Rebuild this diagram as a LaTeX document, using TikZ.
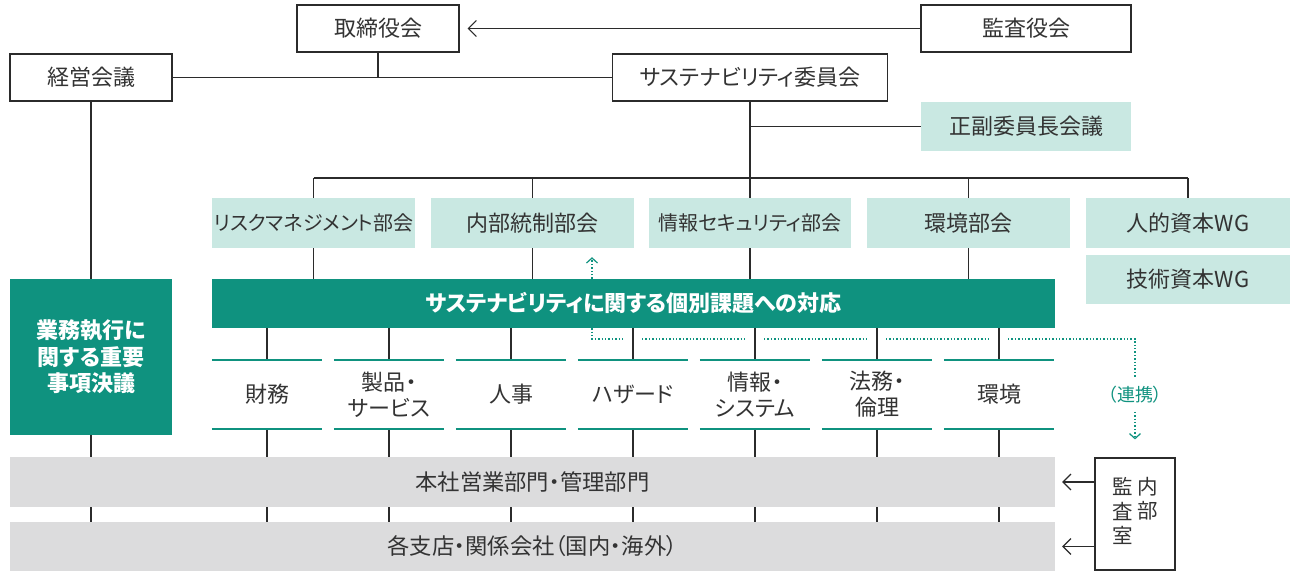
\documentclass[tikz,border=0pt]{standalone}
\usepackage{fontspec}
\setmainfont{Noto Sans CJK JP}[RawFeature=+palt]
\usetikzlibrary{arrows.meta,calc}
\definecolor{teal1}{HTML}{0F927F}
\definecolor{lteal}{HTML}{C9E8E2}
\definecolor{gbar}{HTML}{DCDCDD}
\definecolor{txt}{HTML}{333333}
\definecolor{ln}{HTML}{2B2B2B}
\begin{document}
\begin{tikzpicture}[x=1pt,y=-1pt,
  every node/.style={font=\fontsize{22}{26}\selectfont, text=txt, inner sep=0pt},
  box/.style={draw=ln, line width=1.2pt, fill=white, minimum height=47pt},
  sub/.style={fill=lteal, minimum width=203pt, minimum height=50pt},
  topic/.style={minimum width=110pt, minimum height=69pt, align=center},
  graybar/.style={fill=gbar, minimum width=1045pt, font=\fontsize{22.3}{26}\selectfont},
  greenbox/.style={fill=teal1, text=white, align=center},
  conn/.style={draw=ln, line width=1.1pt},
  dots/.style={draw=teal1, line width=1.4pt, dash pattern=on 1.4pt off 2pt},
  barb/.style={-{Straight Barb[length=8pt,width=16pt,line width=1.1pt]}},
  tbarb/.style={-{Straight Barb[length=5pt,width=11pt,line width=1.2pt]}},
  tline/.style={draw=teal1, line width=2.5pt}
]
\useasboundingbox (0,0) rectangle (1294,578);
\fill[white] (0,0) rectangle (1294,578);

% top boxes
\node[box, minimum width=162pt] (tori) at (378,28.5) {取締役会};
\node[box, minimum width=210pt] (kansa) at (1026,28.5) {監査役会};
\node[box, minimum width=162pt] (keiei) at (91,77.5) {経営会議};
\node[box, minimum width=275pt] (sust) at (750,77.5) {サステナビリティ委員会};
\node[sub, minimum width=210pt, minimum height=49pt] (seifuku) at (1026,126.5) {正副委員長会議};

% committees
\node[sub, font=\fontsize{20}{26}\selectfont] (risk) at (313.5,223) {リスクマネジメント部会};
\node[sub] (naibu) at (532.5,223) {内部統制部会};
\node[sub, minimum width=202pt, font=\fontsize{20}{26}\selectfont] (joho) at (750,223) {情報セキュリティ部会};
\node[sub] (kankyo) at (968.5,223) {環境部会};
\node[sub, minimum width=204pt] (jinteki) at (1188,223) {人的資本WG};
\node[sub, minimum width=204pt, minimum height=49pt] (gijutsu) at (1188,279.5) {技術資本WG};

% green boxes
\node[greenbox, minimum width=843pt, minimum height=49pt, font=\bfseries\fontsize{22}{26}\selectfont] (kadai) at (633.5,303.5) {サステナビリティに関する個別課題への対応};
\node[greenbox, minimum width=162pt, minimum height=156pt, font=\bfseries\fontsize{22}{26.5}\selectfont] (gyomu) at (91,357) {業務執行に\\関する重要\\事項決議};

% topics
\node[topic] (t1) at (267,394.5) {財務};
\node[topic] (t2) at (389,394.5) {製品・\\サービス};
\node[topic] (t3) at (511,394.5) {人事};
\node[topic] (t4) at (633,394.5) {ハザード};
\node[topic] (t5) at (755,394.5) {情報・\\システム};
\node[topic] (t6) at (877,394.5) {法務・\\倫理};
\node[topic] (t7) at (999,394.5) {環境};

% gray bars
\node[graybar, minimum height=50pt] (g1) at (532.5,482) {本社営業部門・管理部門};
\node[graybar, minimum height=49pt] (g2) at (532.5,546.5) {各支店・関係会社（国内・海外）};

% internal audit
\node[draw=ln, line width=1.2pt, minimum width=80pt, minimum height=112pt, font=\fontsize{20.5}{24}\selectfont] (naikan) at (1135,514)
  {\begin{tabular}[t]{@{}c@{}}監\\査\\室\end{tabular}\hspace{4pt}\begin{tabular}[t]{@{}c@{}}内\\部\end{tabular}};

\node[font=\fontsize{18}{20}\selectfont, text=teal1, inner ysep=8pt] (renkei) at (1135,395) {（連携）};

% connectors top
\draw[conn,barb,shorten >=8pt] (kansa.west) -- (tori.east);
\draw[conn] (keiei.east) -- (sust.west);
\draw[conn] (tori.south) -- (tori.south |- keiei.east);
\draw[conn] (seifuku.west) -- (seifuku.west -| sust.south);
\coordinate (hb) at (750,178);
\draw[conn] (sust.south) -- (joho.north);
\draw[conn] (risk.north |- hb) -- (jinteki.north |- hb);
\foreach \n in {risk,naibu,kankyo,jinteki} \draw[conn] (\n.north |- hb) -- (\n.north);
\foreach \n in {risk,naibu,joho,kankyo} \draw[conn] (\n.south) -- (\n.south |- kadai.north);

% left column
\draw[conn] (keiei.south) -- (gyomu.north);
\draw[conn] (gyomu.south) -- (gyomu.south |- g1.north);
\draw[conn] (gyomu.south |- g1.south) -- (gyomu.south |- g2.north);

% topics connectors
\foreach \i in {1,...,7} {
  \draw[conn] (t\i.north |- kadai.south) -- (t\i.north);
  \draw[conn] (t\i.south) -- (t\i.south |- g1.north);
  \draw[conn] (t\i.south |- g1.south) -- (t\i.south |- g2.north);
  \draw[tline] (t\i.north west) -- (t\i.north east);
  \draw[tline] (t\i.south west) -- (t\i.south east);
}

% audit arrows
\draw[conn,barb,shorten >=7pt] (naikan.west |- g1.east) -- (g1.east);
\draw[conn,barb,shorten >=7pt] (naikan.west |- g2.east) -- (g2.east);

% dotted links
\coordinate (dx) at (592,339);
\draw[dots,tbarb,shorten >=9pt] (kadai.north -| dx) -- (dx |- naibu.south);
\draw[dots] (kadai.south -| dx) -- (dx) -- ([xshift=-9pt]t4.north |- dx);
\draw[dots] ([xshift=9pt]t4.north |- dx) -- ([xshift=-9pt]t5.north |- dx);
\draw[dots] ([xshift=9pt]t5.north |- dx) -- ([xshift=-9pt]t6.north |- dx);
\draw[dots] ([xshift=9pt]t6.north |- dx) -- ([xshift=-9pt]t7.north |- dx);
\draw[dots] ([xshift=9pt]t7.north |- dx) -- (dx -| renkei.north) -- (renkei.north);
\draw[dots,tbarb,shorten >=18pt] (renkei.south) -- (naikan.north);
\end{tikzpicture}
\end{document}
